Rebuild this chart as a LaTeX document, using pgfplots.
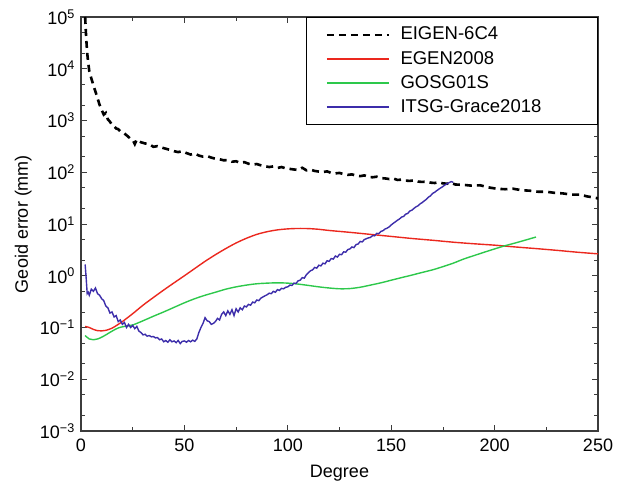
\documentclass[border=0pt]{standalone}
\usepackage{fontspec}
\setmainfont{Liberation Sans}
\usepackage{pgfplots}
\pgfplotsset{compat=1.18}
\definecolor{cred}{RGB}{235,40,30}
\definecolor{cgreen}{RGB}{45,200,75}
\definecolor{cblue}{RGB}{60,45,170}
\definecolor{caxis}{RGB}{60,60,60}
\begin{document}
\fontsize{18}{21}\selectfont
\begin{tikzpicture}
\begin{axis}[
  scale only axis, width=517pt, height=414pt,
  ymode=log, xmin=0, xmax=250, ymin=1e-3, ymax=1e5,
  axis line style={caxis, line width=1.3pt},
  tick style={caxis, line width=0.8pt},
  tick align=inside, xtick pos=both, ytick pos=both,
  major tick length=6pt, minor tick length=4pt,
  xtick={0,50,100,150,200,250},
  minor xtick={25,75,125,175,225},
  ytick={1e-3,1e-2,1e-1,1,1e1,1e2,1e3,1e4,1e5},
  yticklabels={10\textsuperscript{−3},10\textsuperscript{−2},10\textsuperscript{−1},10\textsuperscript{0},10\textsuperscript{1},10\textsuperscript{2},10\textsuperscript{3},10\textsuperscript{4},10\textsuperscript{5}},
  minor ytick={2e-3,5e-3,2e-2,5e-2,2e-1,5e-1,2,5,2e1,5e1,2e2,5e2,2e3,5e3,2e4,5e4},
  /pgf/number format/assume math mode=true,
  tick label style={font=\fontsize{18}{21}\selectfont},
  label style={font=\fontsize{18}{21}\selectfont},
  xlabel={Degree}, ylabel={Geoid error (mm)},
  xticklabel style={yshift=-2pt},
  xlabel style={yshift=-1pt},
  ylabel style={yshift=-4pt},
  legend cell align=left,
  legend style={at={(1,1)}, anchor=north east, draw=black, line width=1pt,
    font=\fontsize{18.5}{21}\selectfont, inner xsep=20pt, inner ysep=8.5pt,
    row sep=6.5pt, column sep=10pt, nodes={text width=176pt, inner sep=1pt}},
  legend image code/.code={\draw[#1, line width=1.5pt] (0pt,0pt) -- (62pt,0pt);},
]
\addplot[black, line width=2.6pt, dash pattern=on 7pt off 5pt] coordinates {
(2,100000)(2.5,40000)(3,20000)(3.5,13000)(4,9000)(5,6500)(6,4800)(7,3600)(8,2700)(9,2000)(10,1600)(11,1300)(12,1400)(13,1050)(14,950)(15,820)(16,780)(17,700)(18,680)(19,620)(20,600)(21,560)(22,520)(23,480)(24,440)(25,420)(26,350)(27,430)(28,400)(29,380)(31,360)(33,350)(35,310)(37,320)(39,300)(41,285)(43,270)(45,255)(47,245)(49,255)(51,235)(53,220)(55,230)(57,210)(59,200)(61,205)(63,192)(65,182)(67,178)(69,170)(71,172)(73,160)(75,163)(77,152)(79,157)(81,146)(83,141)(85,144)(87,136)(89,131)(91,126)(93,130)(95,121)(97,126)(99,119)(101,116)(103,113)(105,111)(107,122)(109,109)(111,112)(113,106)(115,103)(117,101)(119,104)(121,97)(123,95)(125,97)(127,92)(129,89)(131,91)(133,86)(135,84)(137,87)(139,81)(141,80)(143,82)(145,77)(147,76)(149,74)(151,76)(153,71)(155,72)(157,69)(159,68)(161,70)(163,66)(165,65)(167,66)(169,63)(171,62)(173,64)(175,61)(177,60)(179,62)(181,58)(185,57)(189,55)(193,56)(197,51)(201,48)(205,47)(209,48)(213,45)(217,44)(221,42)(225,42)(229,40)(233,39)(237,37)(241,37)(245,34)(249,32)(250,31)
};
\addlegendentry{EIGEN-6C4}
\addplot[cred, line width=1.4pt, smooth] coordinates {
(2,0.105)(4,0.1)(6,0.092)(8,0.087)(10,0.086)(12,0.088)(15,0.097)(18,0.115)(20,0.13)(25,0.185)(30,0.27)(35,0.38)(40,0.53)(45,0.73)(50,1.0)(55,1.38)(60,1.9)(65,2.55)(70,3.35)(75,4.3)(80,5.3)(85,6.3)(90,7.1)(95,7.7)(100,8.05)(105,8.2)(110,8.15)(115,7.9)(120,7.5)(130,6.9)(140,6.3)(150,5.75)(160,5.25)(170,4.85)(180,4.45)(190,4.15)(200,3.9)(210,3.6)(220,3.35)(230,3.1)(240,2.85)(250,2.65)
};
\addlegendentry{EGEN2008}
\addplot[cgreen, line width=1.4pt, smooth] coordinates {
(2,0.07)(4,0.06)(6,0.058)(8,0.06)(10,0.065)(12,0.072)(15,0.085)(18,0.098)(21,0.105)(25,0.112)(30,0.135)(35,0.165)(40,0.2)(45,0.245)(50,0.3)(55,0.36)(60,0.42)(65,0.48)(70,0.55)(75,0.61)(80,0.66)(85,0.70)(90,0.72)(95,0.73)(100,0.72)(105,0.69)(110,0.65)(115,0.61)(120,0.58)(125,0.56)(130,0.565)(135,0.6)(140,0.66)(145,0.73)(150,0.82)(155,0.92)(160,1.03)(165,1.16)(170,1.3)(175,1.5)(180,1.75)(185,2.1)(190,2.45)(195,2.85)(200,3.3)(205,3.8)(210,4.3)(215,4.9)(220,5.6)
};
\addlegendentry{GOSG01S}
\addplot[cblue, line width=1.4pt] coordinates {
(2,1.65)(2.5,0.9)(3,0.45)(3.5,0.48)(4,0.42)(5,0.55)(6,0.5)(7,0.58)(8,0.45)(9,0.42)(10,0.36)(11,0.33)(12,0.26)(13,0.24)(14,0.19)(15,0.2)(16,0.16)(17,0.17)(18,0.13)(19,0.14)(20,0.115)(21,0.125)(22,0.1)(23,0.115)(24,0.1)(25,0.11)(26,0.095)(27,0.105)(28,0.085)(29,0.08)(30,0.072)(31,0.074)(32,0.068)(33,0.07)(34,0.066)(35,0.067)(36,0.063)(37,0.064)(38,0.058)(39,0.06)(40,0.053)(41,0.056)(42,0.052)(43,0.058)(44,0.053)(45,0.055)(46,0.051)(47,0.056)(48,0.049)(49,0.054)(50,0.055)(51,0.052)(52,0.056)(53,0.053)(54,0.057)(55,0.054)(56,0.06)(57,0.08)(58,0.1)(59,0.12)(60,0.155)(61,0.135)(62,0.13)(63,0.115)(64,0.12)(65,0.13)(66,0.15)(67,0.14)(68,0.18)(69,0.2)(70,0.17)(71,0.21)(72,0.18)(73,0.22)(74,0.17)(75,0.23)(76,0.2)(77,0.24)(78,0.22)(79,0.26)(80,0.25)(81,0.28)(82,0.27)(83,0.31)(84,0.3)(85,0.34)(86,0.33)(87,0.37)(88,0.39)(89,0.41)(90,0.43)(91,0.46)(92,0.45)(93,0.5)(94,0.48)(95,0.54)(96,0.52)(97,0.57)(98,0.56)(99,0.6)(100,0.61)(101,0.66)(102,0.65)(103,0.72)(104,0.71)(105,0.8)(106,0.82)(107,0.92)(108,0.9)(109,1.05)(110,1.15)(111,1.25)(112,1.3)(113,1.45)(114,1.4)(115,1.6)(116,1.55)(117,1.75)(118,1.7)(119,1.95)(120,1.9)(121,2.15)(122,2.1)(123,2.4)(124,2.3)(125,2.6)(126,2.55)(127,2.9)(128,2.85)(129,3.2)(130,3.3)(131,3.6)(132,3.5)(133,4.0)(134,4.1)(135,4.6)(136,4.5)(137,5.0)(138,5.2)(139,5.4)(140,5.5)(141,6.0)(142,5.9)(143,6.6)(144,6.5)(145,7.2)(146,7.4)(147,8.0)(148,8.3)(149,8.8)(150,9.6)(151,10.3)(152,11)(153,11.8)(154,12.5)(155,13.6)(156,14)(157,15.5)(158,16)(159,17.8)(160,18.5)(161,20)(162,21.5)(163,22.5)(164,24.5)(165,26)(166,28)(167,30)(168,33)(169,35)(170,39)(171,41)(172,44)(173,47)(174,50)(175,53)(176,57)(177,60)(178,63)(179,66)(180,64)
};
\addlegendentry{ITSG-Grace2018}
\end{axis}
\pgfresetboundingbox
\path[use as bounding box] ([xshift=-81pt,yshift=-50pt]current axis.south west) rectangle ([xshift=32pt,yshift=17pt]current axis.north east);
\end{tikzpicture}
\end{document}
